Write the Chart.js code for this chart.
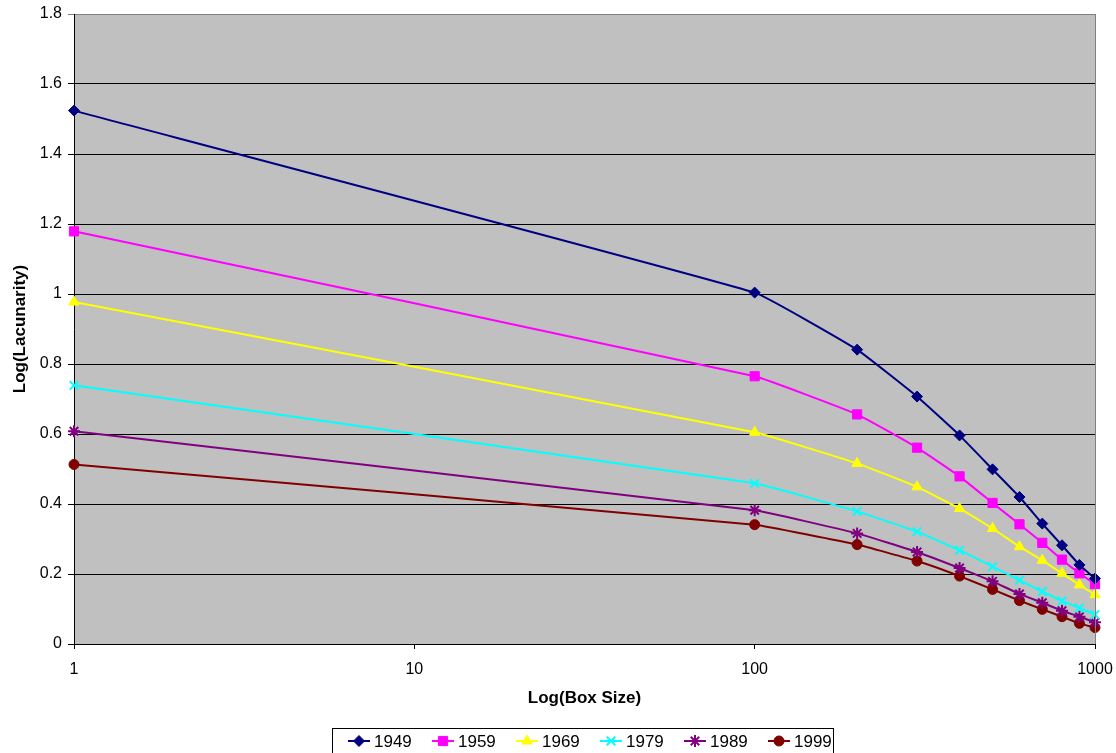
<!DOCTYPE html>
<html>
<head>
<meta charset="utf-8">
<script src="https://cdn.jsdelivr.net/npm/chart.js@4.4.0/dist/chart.umd.min.js"></script>
<style>
  html, body { margin: 0; padding: 0; background: #fff; }
  #wrap { width: 1116px; height: 753px; }
</style>
</head>
<body>
<div id="wrap"><canvas id="chart" width="1116" height="753"></canvas></div>
<script>
// box sizes along the log x axis
const boxSizes = [1, 100, 200, 300, 400, 500, 600, 700, 800, 900, 1000];
const xTicks = [1, 10, 100, 1000];

const lac1949 = [1.524, 1.004, 0.841, 0.707, 0.596, 0.499, 0.420, 0.344, 0.282, 0.226, 0.187];
const lac1959 = [1.179, 0.765, 0.656, 0.561, 0.479, 0.403, 0.342, 0.289, 0.241, 0.202, 0.171];
const lac1969 = [0.977, 0.605, 0.516, 0.449, 0.387, 0.330, 0.278, 0.239, 0.202, 0.169, 0.141];
const lac1979 = [0.739, 0.459, 0.379, 0.321, 0.268, 0.221, 0.182, 0.150, 0.123, 0.103, 0.084];
const lac1989 = [0.608, 0.382, 0.316, 0.263, 0.217, 0.179, 0.143, 0.118, 0.095, 0.078, 0.062];
const lac1999 = [0.513, 0.341, 0.284, 0.237, 0.194, 0.156, 0.124, 0.099, 0.078, 0.059, 0.047];

const FONT = '"Liberation Sans", Arial, sans-serif';

function toPoints(vals) {
  return boxSizes.map((b, i) => ({ x: b, y: vals[i] }));
}

function series(label, vals, color, style, radius, bw) {
  return {
    label,
    data: toPoints(vals),
    borderColor: color,
    backgroundColor: color,
    pointBackgroundColor: color,
    pointBorderColor: color,
    pointStyle: style,
    pointRadius: radius,
    pointHoverRadius: radius,
    pointBorderWidth: bw,
    borderWidth: 2,
    tension: 0.1,
    clip: false
  };
}

const plotBg = {
  id: 'plotBg',
  beforeDraw(chart) {
    const { ctx, chartArea: a } = chart;
    ctx.save();
    ctx.fillStyle = '#c0c0c0';
    ctx.fillRect(a.left, a.top, a.right - a.left, a.bottom - a.top);
    ctx.restore();
  },
  afterDraw(chart) {
    const { ctx, chartArea: a } = chart;
    ctx.save();
    ctx.strokeStyle = '#808080';
    ctx.lineWidth = 1;
    ctx.beginPath();
    ctx.moveTo(a.right + 0.5, a.top);
    ctx.lineTo(a.right + 0.5, a.bottom);
    ctx.stroke();
    ctx.restore();
  }
};

// excel style legend: line + marker, inside a box
const boxLegend = {
  id: 'boxLegend',
  afterDraw(chart) {
    const ctx = chart.ctx;
    ctx.save();
    ctx.strokeStyle = '#000';
    ctx.lineWidth = 1;
    ctx.strokeRect(332.5, 728.5, 501, 40);
    ctx.font = '17px ' + FONT;
    ctx.textBaseline = 'middle';
    chart.data.datasets.forEach((ds, i) => {
      const x0 = 348 + i * 84, y = 741;
      ctx.strokeStyle = ds.borderColor;
      ctx.lineWidth = 2;
      ctx.beginPath();
      ctx.moveTo(x0, y);
      ctx.lineTo(x0 + 22, y);
      ctx.stroke();
      ctx.fillStyle = ds.pointBackgroundColor;
      ctx.strokeStyle = ds.pointBorderColor;
      ctx.lineWidth = ds.pointBorderWidth;
      Chart.helpers.drawPoint(ctx, {
        pointStyle: ds.pointStyle, rotation: 0,
        radius: ds.pointRadius, borderWidth: ds.pointBorderWidth
      }, x0 + 11, y);
      ctx.fillStyle = '#000';
      ctx.fillText(ds.label, x0 + 26, y + 1);
    });
    ctx.restore();
  }
};

new Chart(document.getElementById('chart'), {
  type: 'line',
  data: {
    datasets: [
      series('1949', lac1949, '#000080', 'rectRot', 5.5, 1),
      series('1959', lac1959, '#ff00ff', 'rect', 6.5, 1),
      series('1969', lac1969, '#ffff00', 'triangle', 6, 1),
      series('1979', lac1979, '#00ffff', 'crossRot', 6, 2),
      series('1989', lac1989, '#800080', 'star', 6, 2),
      series('1999', lac1999, '#800000', 'circle', 5, 1)
    ]
  },
  options: {
    responsive: false,
    animation: false,
    devicePixelRatio: 1,
    layout: { padding: { left: 0, right: 0, top: 0, bottom: 43 } },
    plugins: {
      legend: { display: false },
      tooltip: { enabled: false }
    },
    scales: {
      x: {
        type: 'logarithmic',
        min: 1,
        max: 1000,
        afterBuildTicks: (scale) => { scale.ticks = xTicks.map(v => ({ value: v })); },
        afterFit: (scale) => {
          scale.height = 66;
          scale.paddingRight = 21;
          scale.paddingLeft = 4;
        },
        ticks: {
          color: '#000',
          font: { family: FONT, size: 16 },
          padding: 11,
          maxRotation: 0,
          callback: (v) => String(v)
        },
        grid: { drawOnChartArea: false, drawTicks: true, tickLength: 5, color: '#000' },
        border: { color: '#000', width: 1 },
        title: {
          display: true,
          text: 'Log(Box Size)',
          color: '#000',
          font: { family: FONT, size: 17, weight: 'bold' },
          padding: { top: 4, bottom: 1 }
        }
      },
      y: {
        min: 0,
        max: 1.8,
        afterFit: (scale) => {
          scale.width = 74;
          scale.paddingTop = 14;
          scale.paddingBottom = 10;
        },
        ticks: {
          stepSize: 0.2,
          color: '#000',
          font: { family: FONT, size: 16 },
          padding: 6,
          callback: (v) => String(Number(v.toFixed(1)))
        },
        grid: {
          color: (c) => (c.tick && Math.abs(c.tick.value - 1.8) < 1e-6 ? '#808080' : '#000'),
          lineWidth: 1,
          tickLength: 6
        },
        border: { color: '#000', width: 1 },
        title: {
          display: true,
          text: 'Log(Lacunarity)',
          color: '#000',
          font: { family: FONT, size: 17, weight: 'bold' },
          padding: { top: 10, bottom: 0 }
        }
      }
    }
  },
  plugins: [plotBg, boxLegend]
});
</script>
</body>
</html>
